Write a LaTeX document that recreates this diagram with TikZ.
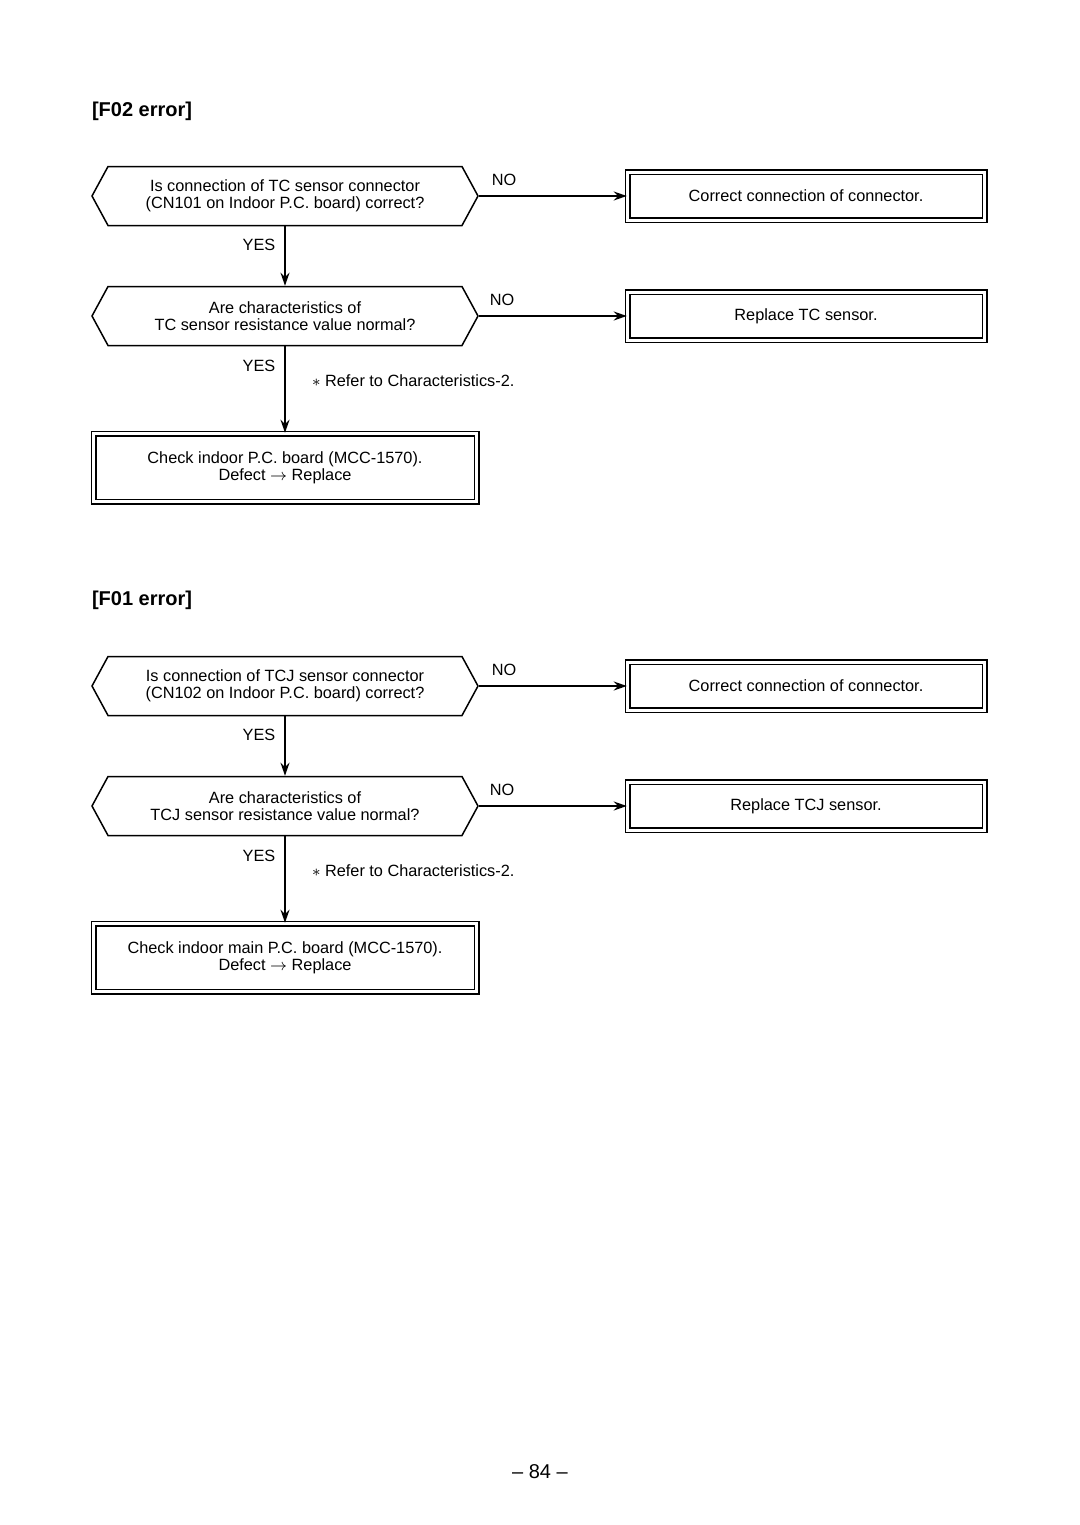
\documentclass[tikz,border=0pt]{standalone}
\usepackage{amsmath,amssymb}
\usepackage{fontspec}
\setmainfont{Liberation Sans}
\usetikzlibrary{shapes.symbols,arrows.meta}

\tikzset{
  ask/.style={signal, signal to=west and east, signal pointer angle=123,
    draw, line width=0.75pt, minimum width=193pt, minimum height=29.5pt,
    align=center, font=\fontsize{8.15pt}{8.6pt}\selectfont},
  fix/.style={draw, line width=0.75pt, double, double distance=1.5pt,
    minimum width=178.5pt, minimum height=24pt,
    align=center, font=\fontsize{8.15pt}{8.6pt}\selectfont},
  check/.style={fix, minimum width=191.5pt, minimum height=34pt},
  lbl/.style={font=\fontsize{8.15pt}{8.6pt}\selectfont},
  head/.style={anchor=west, font=\fontsize{10pt}{12pt}\selectfont\bfseries},
  go/.style={line width=0.75pt, -{Stealth[length=6.5pt,width=4.5pt]}}
}

\begin{document}
\begin{tikzpicture}[x=0.5pt,y=-0.5pt]
\useasboundingbox (0,0) rectangle (1080,1525);

\node[head] (t1) at (85,111) {[F02 error]};

\node[ask] (q1) at (285,196) {Is connection of TC sensor connector\\(CN101 on Indoor P.C. board) correct?};
\node[fix] (a1) at (806,196) {Correct connection of connector.};
\node[ask] (q2) at (285,316) {Are characteristics of\\TC sensor resistance value normal?};
\node[fix] (a2) at (806,316) {Replace TC sensor.};
\node[check] (c1) at (285,467.5) {Check indoor P.C. board (MCC-1570).\\Defect $\rightarrow$ Replace};

\draw[go] (q1.east) -- (a1.west);
\draw[go] (q1.south) -- (q2.north);
\draw[go] (q2.east) -- (a2.west);
\draw[go] (q2.south) -- (c1.north);

\node[lbl] (n1) at (504,180) {NO};
\node[lbl] (y1) at (259,245) {YES};
\node[lbl] (n2) at (502,300) {NO};
\node[lbl] (y2) at (259,366) {YES};
\node[lbl, anchor=west] (r1) at (305,381) {$\ast$ Refer to Characteristics-2.};

\node[head] (t2) at (85,600) {[F01 error]};

\node[ask] (q3) at (285,686) {Is connection of TCJ sensor connector\\(CN102 on Indoor P.C. board) correct?};
\node[fix] (a3) at (806,686) {Correct connection of connector.};
\node[ask] (q4) at (285,806) {Are characteristics of\\TCJ sensor resistance value normal?};
\node[fix] (a4) at (806,806) {Replace TCJ sensor.};
\node[check] (c2) at (285,957.5) {Check indoor main P.C. board (MCC-1570).\\Defect $\rightarrow$ Replace};

\draw[go] (q3.east) -- (a3.west);
\draw[go] (q3.south) -- (q4.north);
\draw[go] (q4.east) -- (a4.west);
\draw[go] (q4.south) -- (c2.north);

\node[lbl] (n3) at (504,670) {NO};
\node[lbl] (y3) at (259,735) {YES};
\node[lbl] (n4) at (502,790) {NO};
\node[lbl] (y4) at (259,856) {YES};
\node[lbl, anchor=west] (r2) at (305,871) {$\ast$ Refer to Characteristics-2.};

\node[font=\fontsize{10pt}{12pt}\selectfont] (pg) at (540,1472) {-- 84 --};
\end{tikzpicture}
\end{document}
